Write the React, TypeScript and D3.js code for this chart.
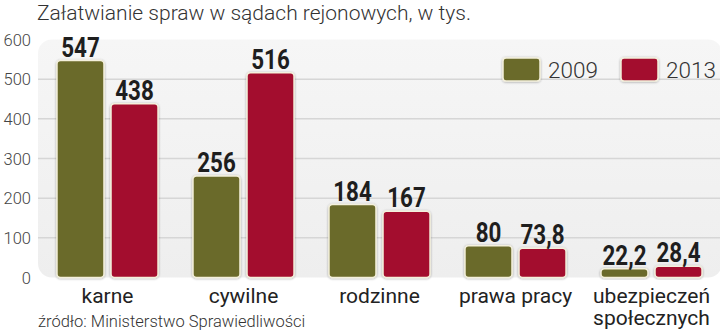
import React from "react";
import * as d3 from "d3";

const categories: string[][] = [["karne"], ["cywilne"], ["rodzinne"], ["prawa pracy"], ["ubezpieczeń", "społecznych"]];
const categoryKeys = ["karne", "cywilne", "rodzinne", "prawa pracy", "ubezpieczeń społecznych"];
const seriesNames = ["2009", "2013"];
const values2009 = [547, 256, 184, 80, 22.2];
const values2013 = [438, 516, 167, 73.8, 28.4];
const yTicks = [0, 100, 200, 300, 400, 500, 600];
const colors = ["#6b6a2b", "#a30e2d"];
const title = "Załatwianie spraw w sądach rejonowych, w tys.";
const source = "źródło: Ministerstwo Sprawiedliwości";

const W = 720;
const H = 333;

export default function App() {
  const x = d3.scaleBand<string>().domain(categoryKeys).range([39.5, 719.5]).paddingInner(0.257).paddingOuter(0.1285);
  const xs = d3.scaleBand<string>().domain(seriesNames).range([0, x.bandwidth()]).paddingInner(0.13);
  const y = d3.scaleLinear().domain([0, 600]).range([277.5, 39.5]);
  const series = [values2009, values2013];
  const fmt = (v: number) => String(v).replace(".", ",");
  const panelLeft = 38;
  const panelTop = y(600);
  const panelBottom = y(0);

  return (
    <svg width={W} height={H} style={{ display: "block", position: "absolute", left: 0, top: 0 }}>
      <defs>
        <filter id="sh" x="-20%" y="-20%" width="140%" height="140%">
          <feDropShadow dx="0" dy="0.5" stdDeviation="1" floodColor="#000" floodOpacity="0.35" />
        </filter>
        <linearGradient id="pg" x1="0" y1="0" x2="0" y2="1">
          <stop offset="0" stopColor="#f6f6f6" />
          <stop offset="1" stopColor="#eeeeee" />
        </linearGradient>
      </defs>
      <rect x={0} y={0} width={W} height={H} fill="#ffffff" />
      <rect x={panelLeft} y={panelTop} width={W - panelLeft + 2} height={panelBottom - panelTop} rx={14} ry={14} fill="url(#pg)" />
      {yTicks.filter((t) => t > 0 && t < 600).map((t) => (
        <line key={t} x1={panelLeft} x2={W} y1={y(t)} y2={y(t)} stroke="#d6d6d6" strokeWidth={1.5} />
      ))}
      {yTicks.map((t) => (
        <text key={t} x={31} y={y(t) + 6} textAnchor="end" fontFamily="Roboto" fontWeight={300} fontSize={16.5} fill="#444">
          {t}
        </text>
      ))}
      <text x={37} y={20} fontFamily="Roboto" fontWeight={300} fontSize={21} fill="#333">
        {title}
      </text>
      {categoryKeys.map((c, i) => (
        <g key={c} transform={`translate(${x(c)},0)`}>
          {seriesNames.map((s, j) => {
            const v = series[j][i];
            const bx = xs(s)!;
            const by = y(v);
            const bh = y(0) - by;
            return (
              <g key={s}>
                <rect x={bx} y={by} width={xs.bandwidth()} height={bh} rx={3.5} ry={3.5} fill={colors[j]} stroke="#f4f0dc" strokeWidth={1.5} filter="url(#sh)" />
                <text transform={`translate(${bx + xs.bandwidth() / 2},${by - 4}) scale(0.8,1)`} textAnchor="middle" fontFamily="Roboto" fontWeight={700} fontSize={28} fill="#1e1e1e">
                  {fmt(v)}
                </text>
              </g>
            );
          })}
          {categories[i].map((line, k) => (
            <text key={k} x={x.bandwidth() / 2} y={303 + k * 22} textAnchor="middle" fontFamily="Roboto" fontSize={21} fill="#222">
              {line}
            </text>
          ))}
        </g>
      ))}
      {seriesNames.map((s, j) => (
        <g key={s} transform={`translate(${503 + j * 118},58)`}>
          <rect x={0} y={0} width={37} height={23} rx={3} ry={3} fill={colors[j]} stroke="#f4f0dc" strokeWidth={1.5} filter="url(#sh)" />
          <text x={45} y={20} fontFamily="Roboto" fontWeight={300} fontSize={22.5} fill="#333">
            {s}
          </text>
        </g>
      ))}
      <text x={38} y={327} fontFamily="Roboto" fontWeight={300} fontSize={16.5} fill="#333">
        {source}
      </text>
    </svg>
  );
}
